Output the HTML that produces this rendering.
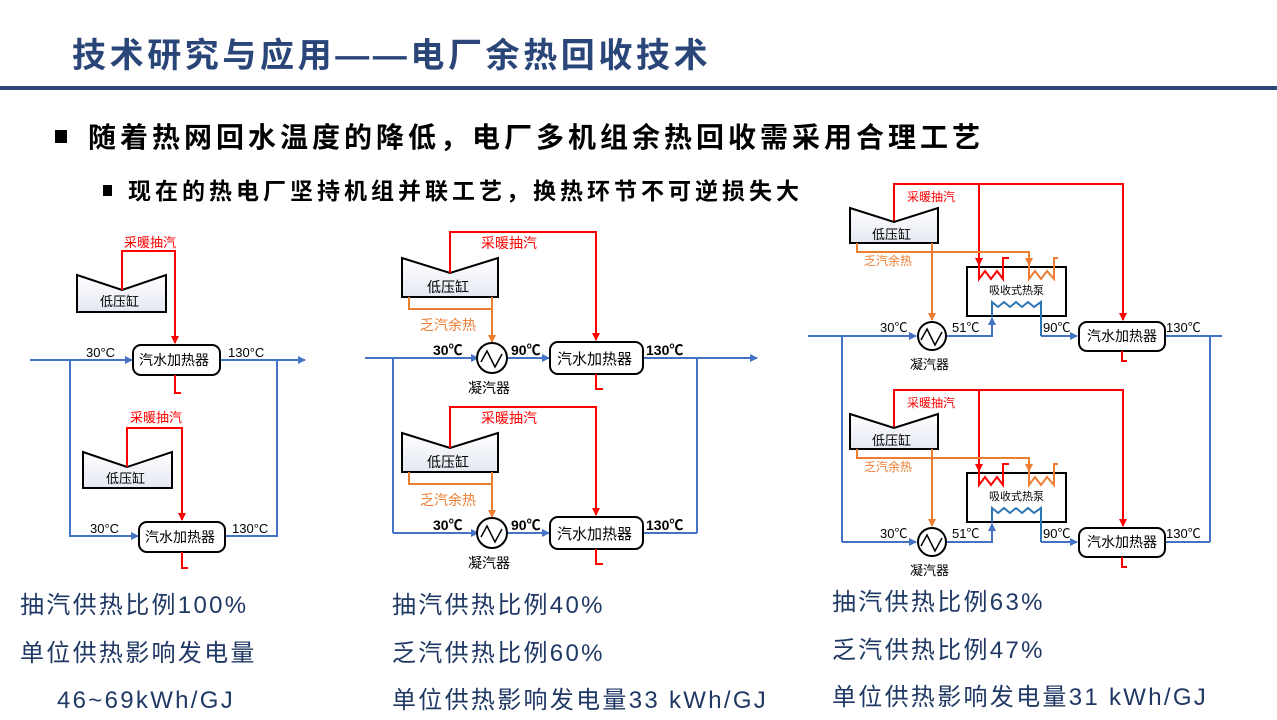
<!DOCTYPE html>
<html><head><meta charset="utf-8"><style>
html,body{margin:0;padding:0;background:#fff;}
body{width:1277px;height:720px;overflow:hidden;position:relative;font-family:"Liberation Sans","Noto Sans CJK SC",sans-serif;}
svg{position:absolute;left:0;top:0;}
</style></head><body>
<svg width="1277" height="720" viewBox="0 0 1277 720" font-family="Liberation Sans, Noto Sans CJK SC, sans-serif">
<defs>
<marker id="ab" markerWidth="8" markerHeight="8" refX="7" refY="4" orient="auto" markerUnits="userSpaceOnUse"><path d="M0,0 L8,4 L0,8 z" fill="#4472c4"/></marker>
<marker id="ar" markerWidth="8" markerHeight="8" refX="7" refY="4" orient="auto" markerUnits="userSpaceOnUse"><path d="M0,0 L8,4 L0,8 z" fill="#ff0000"/></marker>
<marker id="ao" markerWidth="8" markerHeight="8" refX="7" refY="4" orient="auto" markerUnits="userSpaceOnUse"><path d="M0,0 L8,4 L0,8 z" fill="#ed7d31"/></marker>
<linearGradient id="tg" x1="0" y1="0" x2="0" y2="1"><stop offset="0" stop-color="#ffffff"/><stop offset="1" stop-color="#e4e8f2"/></linearGradient>
</defs>
<!-- header -->
<text x="72" y="67" font-size="34" font-weight="bold" fill="#2a4679" letter-spacing="3.6">技术研究与应用——电厂余热回收技术</text>
<rect x="0" y="86" width="1277" height="4" fill="#2a4679"/>
<rect x="55" y="130" width="12" height="13" fill="#000"/>
<text x="88" y="147" font-size="28" font-weight="bold" fill="#000" letter-spacing="4">随着热网回水温度的降低，电厂多机组余热回收需采用合理工艺</text>
<rect x="103" y="185" width="9" height="11" fill="#000"/>
<text x="128" y="199" font-size="23" font-weight="bold" fill="#000" letter-spacing="4">现在的热电厂坚持机组并联工艺，换热环节不可逆损失大</text>

<g fill="none" stroke-width="2">
<!-- LEFT PANEL -->
<path d="M30,360 H305" stroke="#4472c4" marker-end="url(#ab)"/>
<path d="M70,360 V536 H138" stroke="#4472c4" marker-end="url(#ab)"/>
<path d="M70,360 H132" stroke="#4472c4" marker-end="url(#ab)"/>
<path d="M225,536 H277 V360" stroke="#4472c4"/>
<path d="M77,275 L122,290 L166,275 V312 H77 Z" fill="url(#tg)" stroke="#000"/>
<path d="M122,290 V251 H175 V343" stroke="#ff0000" marker-end="url(#ar)"/>
<rect x="133" y="345" width="87" height="30" rx="8" fill="#fff" stroke="#000"/>
<path d="M175,375 V393 H181" stroke="#ff0000"/>
<path d="M83,452 L127,467 L172,452 V488 H83 Z" fill="url(#tg)" stroke="#000"/>
<path d="M127,467 V428 H182 V520" stroke="#ff0000" marker-end="url(#ar)"/>
<rect x="139" y="522" width="86" height="30" rx="8" fill="#fff" stroke="#000"/>
<path d="M182,552 V568 H188" stroke="#ff0000"/>

<!-- MIDDLE PANEL -->
<g id="mid">
<path d="M393,358 H478" stroke="#4472c4" marker-end="url(#ab)"/>
<path d="M507,358 H549" stroke="#4472c4" marker-end="url(#ab)"/>
<path d="M643,358 H697" stroke="#4472c4"/>
<path d="M402,258 L450,273 L498,258 V297 H402 Z" fill="url(#tg)" stroke="#000"/>
<path d="M450,273 V232 H596 V340" stroke="#ff0000" marker-end="url(#ar)"/>
<path d="M409,297 V309 H492" stroke="#ed7d31"/>
<path d="M492,297 V342" stroke="#ed7d31" marker-end="url(#ao)"/>
<circle cx="492" cy="358" r="15" fill="#fff" stroke="#000"/>
<path d="M481,362 L487,351 L495,367 L502,354" stroke="#000" stroke-width="1.5"/>
<rect x="550" y="342" width="93" height="32" rx="8" fill="#fff" stroke="#000"/>
<path d="M596,374 V389 H603" stroke="#ff0000"/>
</g>
<use href="#mid" transform="translate(0,175)"/>
<path d="M365,358 H393" stroke="#4472c4"/>
<path d="M697,358 H757" stroke="#4472c4" marker-end="url(#ab)"/>
<path d="M393,358 V533" stroke="#4472c4"/>
<path d="M697,358 V533" stroke="#4472c4"/>

<!-- RIGHT PANEL -->
<g id="rt">
<path d="M842,336 H916" stroke="#4472c4" marker-end="url(#ab)"/>
<path d="M947,336 H992 V318" stroke="#4472c4" marker-end="url(#ab)"/>
<path d="M1041,336 H1077" stroke="#4472c4" marker-end="url(#ab)"/>
<path d="M1165,336 H1210" stroke="#4472c4"/>
<path d="M894,222 V184 H1123 V320" stroke="#ff0000" marker-end="url(#ar)"/>
<path d="M979,184 V265" stroke="#ff0000" marker-end="url(#ar)"/>
<path d="M850,208 L894,222 L938,208 V243 H850 Z" fill="url(#tg)" stroke="#000"/>
<path d="M857,243 V252 H1029 V265" stroke="#ed7d31" marker-end="url(#ao)"/>
<path d="M932,243 V320" stroke="#ed7d31" marker-end="url(#ao)"/>
<rect x="967" y="267" width="99" height="49" fill="#fff" stroke="#000"/>
<path d="M979,265 V279 L985,271 L991,279 L997,271 L1003,279 V258 H1009" stroke="#ff0000"/>
<path d="M1029,265 V279 L1035,271 L1041,279 L1047,271 L1054,279 V258 H1058" stroke="#ed7d31"/>
<path d="M992,316 V302 L998,307 L1004,302 L1010,307 L1016,302 L1022,307 L1028,302 L1034,307 L1041,302 V336" stroke="#2e75b6"/>
<circle cx="932" cy="336" r="14" fill="#fff" stroke="#000"/>
<path d="M921,340 L927,329 L935,345 L942,332" stroke="#000" stroke-width="1.5"/>
<rect x="1079" y="322" width="86" height="29" rx="8" fill="#fff" stroke="#000"/>
<path d="M1122,351 V361 H1127" stroke="#ff0000"/>
</g>
<use href="#rt" transform="translate(0,206)"/>
<path d="M808,336 H842 V542" stroke="#4472c4"/>
<path d="M1210,336 H1222 M1210,336 V542" stroke="#4472c4"/>
</g>

<!-- labels -->
<g font-size="13" fill="#000">
<text x="124" y="247" fill="#ff0000">采暖抽汽</text>
<text x="100" y="306">低压缸</text>
<text x="139" y="365" font-size="14">汽水加热器</text>
<text x="86" y="357">30°C</text>
<text x="228" y="357">130°C</text>
<text x="130" y="422" fill="#ff0000">采暖抽汽</text>
<text x="106" y="483">低压缸</text>
<text x="145" y="542" font-size="14">汽水加热器</text>
<text x="90" y="533">30°C</text>
<text x="232" y="533">130°C</text>
</g>
<g font-size="14" fill="#000">
<g id="midt">
<text x="481" y="248" fill="#ff0000">采暖抽汽</text>
<text x="427" y="292">低压缸</text>
<text x="420" y="330" fill="#ed7d31">乏汽余热</text>
<text x="433" y="355" font-weight="bold">30℃</text>
<text x="511" y="355" font-weight="bold">90℃</text>
<text x="646" y="355" font-weight="bold">130℃</text>
<text x="468" y="393">凝汽器</text>
<text x="557" y="364" font-size="15">汽水加热器</text>
</g>
<use href="#midt" transform="translate(0,175)"/>
</g>
<g font-size="12" fill="#000">
<g id="rtt">
<text x="907" y="201" fill="#ff0000">采暖抽汽</text>
<text x="872" y="239" font-size="13">低压缸</text>
<text x="864" y="265" fill="#ed7d31">乏汽余热</text>
<text x="989" y="294" font-size="11">吸收式热泵</text>
<text x="880" y="332" font-size="13">30℃</text>
<text x="952" y="332" font-size="13">51℃</text>
<text x="1043" y="332" font-size="13">90℃</text>
<text x="1166" y="332" font-size="13">130℃</text>
<text x="910" y="369" font-size="13">凝汽器</text>
<text x="1087" y="341" font-size="14">汽水加热器</text>
</g>
<use href="#rtt" transform="translate(0,206)"/>
</g>

<g font-size="24" fill="#1f3864" letter-spacing="2.3">
<text x="20" y="613">抽汽供热比例100%</text>
<text x="20" y="661">单位供热影响发电量</text>
<text x="57" y="708">46~69kWh/GJ</text>
<text x="392" y="613">抽汽供热比例40%</text>
<text x="392" y="661">乏汽供热比例60%</text>
<text x="392" y="708">单位供热影响发电量33 kWh/GJ</text>
<text x="832" y="610">抽汽供热比例63%</text>
<text x="832" y="658">乏汽供热比例47%</text>
<text x="832" y="705">单位供热影响发电量31 kWh/GJ</text>
</g>
</svg>
</body></html>
